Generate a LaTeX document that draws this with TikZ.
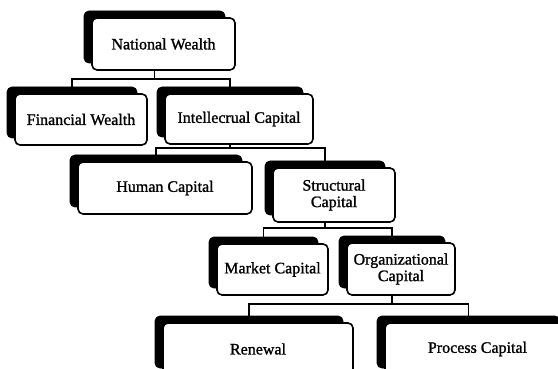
\documentclass[tikz,border=0pt]{standalone}
\usepackage{fontspec}
\setmainfont{Liberation Serif}
\newfontfamily\boxfont{Liberation Serif}[FakeBold=1.2]
\begin{document}
\begin{tikzpicture}[x=1pt,y=-1pt,
  backbox/.style={fill=black,draw=black,line width=0.8pt,rounded corners=5pt,inner sep=0pt},
  frontbox/.style={fill=white,draw=black,line width=1.6pt,rounded corners=5pt,inner sep=0pt,
    align=center,font=\boxfont\fontsize{16}{16.5}\selectfont},
  conn/.style={draw=black,line width=1.6pt}]
\useasboundingbox (0,0) rectangle (558,369);
\clip (0,0) rectangle (558,369);
\newcommand\orgbox[6]{%
  \pgfmathsetmacro\bw{#4-#2-2}%
  \pgfmathsetmacro\fw{#4-#2}%
  \pgfmathsetmacro\hh{#5-#3}%
  \pgfmathsetmacro\cx{(#2+#4)/2}%
  \pgfmathsetmacro\cy{(#3+#5)/2}%
  \node[backbox,minimum width=\bw pt,minimum height=\hh pt] (#1b) at (\cx-9,\cy-7) {};
  \node[frontbox,minimum width=\fw pt,minimum height=\hh pt] (#1f) at (\cx,\cy) {#6};
}
% bus levels
\coordinate (bus1) at (0,79);
\coordinate (bus2) at (0,148);
\coordinate (bus3) at (0,228);
\coordinate (bus4) at (0,304);
% boxes
\orgbox{nw}{92}{18}{235}{70}{National Wealth}
\orgbox{fw}{15}{94}{147}{145}{Financial Wealth}
\orgbox{ic}{165}{94}{313}{144}{Intellecrual Capital}
\orgbox{hc}{78}{162}{252}{214}{Human Capital}
\orgbox{sc}{273}{168}{395}{222}{Structural\\Capital}
\orgbox{mc}{217}{244}{328}{295}{Market Capital}
\orgbox{oc}{347}{243}{455}{295}{Organizational\\Capital}
\orgbox{rn}{163}{323}{353}{375}{Renewal}
\orgbox{pc}{385}{323}{570}{375}{Process Capital}
% connectors
\draw[conn] (nwf.south -| nwb.north) -- (nwb.north |- bus1);
\draw[conn] (fwb.north) |- (icb.north |- bus1) -- (icb.north);
\draw[conn] (icf.south -| icb.north) -- (icb.north |- bus2);
\draw[conn] (hcb.north) |- (scb.north |- bus2) -- (scb.north);
\draw[conn] (scf.south -| scb.north) -- (scb.north |- bus3);
\draw[conn] (mcb.north) |- (ocb.north |- bus3) -- (ocb.north);
\draw[conn] (ocf.south -| ocb.north) -- (ocb.north |- bus4);
\draw[conn] (rnb.north) |- (pcb.north |- bus4) -- (pcb.north);
\end{tikzpicture}
\end{document}
